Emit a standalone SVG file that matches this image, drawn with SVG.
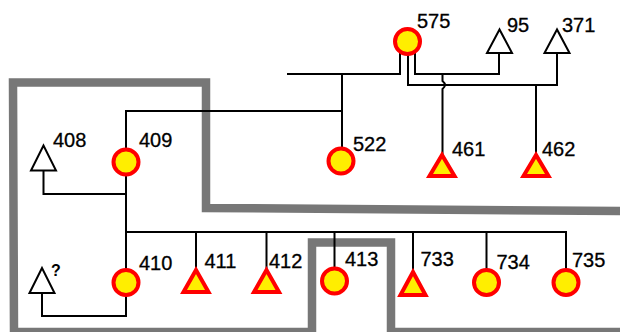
<svg xmlns="http://www.w3.org/2000/svg" width="620" height="332" viewBox="0 0 620 332">
<style>
.frame{fill:none;stroke:#777;stroke-width:8.5;stroke-linejoin:miter}
.ln{fill:none;stroke:#000;stroke-width:2}
.aff{fill:#ffee00;stroke:#ff0000;stroke-width:4}
.unk{fill:#fff;stroke:#000;stroke-width:2}
text{font-family:"Liberation Sans",Arial,sans-serif;font-size:20px;fill:#000;stroke:#000;stroke-width:0.3}
</style>
<rect width="620" height="332" fill="#fff"/>
<g id="frame">
<path class="frame" d="M620 211 L206 208 L206 82.5 L13 82.5 L14 332 L312 332 L312 242.5 L391 242.5 L391 332 L620 332"/>
</g>
<g id="connectors">
<path class="ln" d="M400 42 V74 H287"/>
<path class="ln" d="M342 74 V150"/>
<path class="ln" d="M415 42 V74 H499 V53"/>
<path class="ln" d="M408 42 V85 H557 V53"/>
<path class="ln" d="M442.5 74 V81 Q447.5 85 442.5 89 V155"/>
<path class="ln" d="M536 85 V155"/>
<path class="ln" d="M342 111 H126 V282"/>
<path class="ln" d="M43.5 170 V194 H126"/>
<path class="ln" d="M42 293 V316 H126 V282"/>
<path class="ln" d="M126 232 H566 V282"/>
<path class="ln" d="M196 232 V270"/>
<path class="ln" d="M266.5 232 V270"/>
<path class="ln" d="M334.5 232 V281"/>
<path class="ln" d="M413 232 V272"/>
<path class="ln" d="M486.5 232 V282"/>
</g>
<g id="n575"><circle class="aff" cx="407.5" cy="41.5" r="12.5"/><text x="417" y="28">575</text></g>
<g id="n95"><polygon class="unk" points="499.5,29.5 487,53 512,53"/><text x="507" y="32">95</text></g>
<g id="n371"><polygon class="unk" points="557,29.5 544.5,53 569.5,53"/><text x="562" y="32">371</text></g>
<g id="n522"><circle class="aff" cx="341" cy="161" r="12.5"/><text x="353" y="151">522</text></g>
<g id="n461"><polygon class="aff" points="442,155 429.5,176 454.5,176"/><text x="452" y="155.5">461</text></g>
<g id="n462"><polygon class="aff" points="536,155 523.5,176 548.5,176"/><text x="542" y="155.5">462</text></g>
<g id="n408"><polygon class="unk" points="43.5,145.5 31,170.5 56,170.5"/><text x="53" y="147">408</text></g>
<g id="n409"><circle class="aff" cx="126" cy="162" r="12.5"/><text x="139" y="147">409</text></g>
<g id="nq"><polygon class="unk" points="42,268 29.5,293 54.5,293"/><text x="51" y="276" style="font-size:16px;font-weight:bold;stroke-width:0">?</text></g>
<g id="n410"><circle class="aff" cx="126" cy="282.5" r="12.5"/><text x="139" y="270">410</text></g>
<g id="n411"><polygon class="aff" points="196,270 183.5,292 208.5,292"/><text x="204.5" y="268">411</text></g>
<g id="n412"><polygon class="aff" points="266.5,270 254,292 279,292"/><text x="269" y="268">412</text></g>
<g id="n413"><circle class="aff" cx="334.5" cy="281" r="12.5"/><text x="345" y="265.5">413</text></g>
<g id="n733"><polygon class="aff" points="413,272 400.5,295 425.5,295"/><text x="420.5" y="265.5">733</text></g>
<g id="n734"><circle class="aff" cx="486.5" cy="282.5" r="12.5"/><text x="496.5" y="269">734</text></g>
<g id="n735"><circle class="aff" cx="566" cy="282.5" r="12.5"/><text x="572" y="266.5">735</text></g>
</svg>
